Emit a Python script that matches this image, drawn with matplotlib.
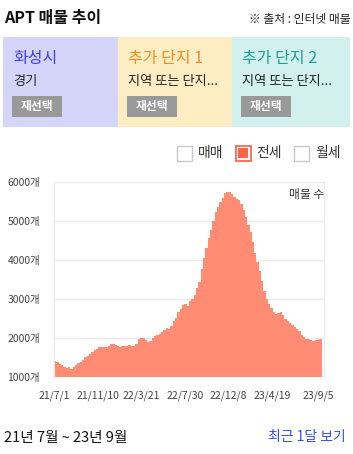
import matplotlib
matplotlib.use("Agg")
import matplotlib.pyplot as plt
import matplotlib.patches as patches
import numpy as np
import pandas as pd

plt.rcParams['font.family'] = ['Noto Sans CJK KR', 'DejaVu Sans']

# weekly listing counts (전세), from 2021-07-01
start_date = '2021-07-01'
counts = [1390, 1365, 1330, 1290, 1255, 1235, 1245, 1210, 1250, 1300,
          1350, 1385, 1420, 1500, 1540, 1575, 1630, 1690, 1720, 1750,
          1755, 1750, 1755, 1790, 1835, 1830, 1815, 1790, 1770, 1775,
          1780, 1795, 1805, 1775, 1790, 1830, 1970, 2000, 2005, 1930,
          1900, 1910, 2000, 2050, 2075, 2100, 2150, 2200, 2240, 2230,
          2290, 2420, 2510, 2660, 2740, 2850, 2870, 2820, 2930, 3000,
          3100, 3270, 3430, 3750, 4050, 4300, 4560, 4750, 5000, 5230,
          5350, 5470, 5570, 5700, 5740, 5730, 5690, 5620, 5560, 5520,
          5420, 5280, 5100, 4900, 4700, 4450, 4180, 3950, 3700, 3450,
          3200, 3000, 2860, 2750, 2660, 2620, 2640, 2650, 2580, 2480,
          2420, 2370, 2330, 2280, 2230, 2170, 2080, 2010, 1960, 1960,
          1950, 1925, 1935, 1945, 1960, 2010]
tick_dates = ['2021-07-01', '2021-11-10', '2022-03-21', '2022-07-30',
              '2022-12-08', '2023-04-19', '2023-09-05']
tick_labels = ['21/7/1', '21/11/10', '22/3/21', '22/7/30', '22/12/8',
               '23/4/19', '23/9/5']
y_ticks = [1000, 2000, 3000, 4000, 5000, 6000]

panel_titles = ['화성시', '추가 단지 1', '추가 단지 2']
panel_subs = ['경기', '지역 또는 단지...', '지역 또는 단지...']
panel_colors = ['#d5d5fa', '#feecc3', '#d2f0ee']
title_colors = ['#3d3df2', '#f98a1c', '#19a199']

legend_names = ['매매', '전세', '월세']

W, H = 353, 454
fig = plt.figure(figsize=(W / 100, H / 100), dpi=100)

# overlay axes in pixel coords for header / footer
ov = fig.add_axes([0, 0, 1, 1])
ov.set_xlim(0, W)
ov.set_ylim(H, 0)
ov.axis('off')

ov.text(4, 18, 'APT 매물 추이', fontsize=11.5, fontweight='bold',
        va='center', ha='left', color='#111111')
ov.text(351, 20, '※ 출처 : 인터넷 매물', fontsize=8.5, fontweight='medium',
        va='center', ha='right', color='#222222')

panel_x = [3, 118, 232]
panel_w = [115, 114, 118]
for i in range(3):
    x0 = panel_x[i]
    ov.add_patch(patches.Rectangle((x0, 36.5), panel_w[i], 90.5,
                                   facecolor=panel_colors[i], edgecolor='none'))
    ov.text(x0 + 10, 58, panel_titles[i], fontsize=11.5, color=title_colors[i],
            fontweight='medium', va='center', ha='left')
    ov.text(x0 + 10, 82, panel_subs[i], fontsize=9.5, color='#222222',
            fontweight='medium', va='center', ha='left')
    ov.add_patch(patches.Rectangle((x0 + 9, 95.5), 50, 21.5,
                                   facecolor='#999999', edgecolor='none'))
    ov.text(x0 + 34, 106.5, '재선택', fontsize=8.5, color='white',
            fontweight='bold', va='center', ha='center')

# legend checkboxes
box_x = [177, 235.5, 294]
for i, name in enumerate(legend_names):
    if i == 1:
        ov.add_patch(patches.Rectangle((box_x[i], 145.5), 15, 15,
                                       facecolor='white', edgecolor='#ff5a3d', lw=1.2))
        ov.add_patch(patches.Rectangle((box_x[i] + 2.2, 147.7), 10.6, 10.6,
                                       facecolor='#ff6444', edgecolor='none'))
    else:
        ov.add_patch(patches.Rectangle((box_x[i], 145.5), 15, 15,
                                       facecolor='white', edgecolor='#c8c8d4', lw=1))
    ov.text(box_x[i] + 21, 153, name, fontsize=10, color='#333333',
            va='center', ha='left')

ov.text(4, 438, '21년 7월 ~ 23년 9월', fontsize=10.5, color='#111111',
        fontweight='medium', va='center', ha='left')
ov.text(346, 437, '최근 1달 보기', fontsize=10, color='#2f4ff2',
        fontweight='medium', va='center', ha='right')

# main chart
ax = fig.add_axes([54 / W, 1 - 376.7 / H, 270 / W, 195 / H])
dates = pd.date_range(start_date, periods=len(counts), freq='7D')
ax.fill_between(dates, counts, 1000, step='post', color='#ff8c73', lw=0)
ax.set_xlim(dates[0], dates[-1] + pd.Timedelta(days=7))
ax.set_ylim(1000, 6000)

ax.set_yticks(y_ticks)
ax.set_yticklabels([f'{v}개' for v in y_ticks])
ax.set_xticks(pd.to_datetime(tick_dates))
ax.set_xticklabels(tick_labels)
ax.tick_params(axis='both', length=0, labelsize=7.5, colors='#444444')
ax.tick_params(axis='y', pad=10)
ax.tick_params(axis='x', pad=10)
ax.grid(axis='y', color='#ebebeb', lw=1)
ax.set_axisbelow(True)
for s in ax.spines.values():
    s.set_color('#ebebeb')
ax.spines['bottom'].set_visible(False)

ax.text(1.0, 0.935, '매물 수', transform=ax.transAxes, ha='right', va='center',
        fontsize=8.5, color='#333333')

fig.savefig('out.png', dpi=100)
